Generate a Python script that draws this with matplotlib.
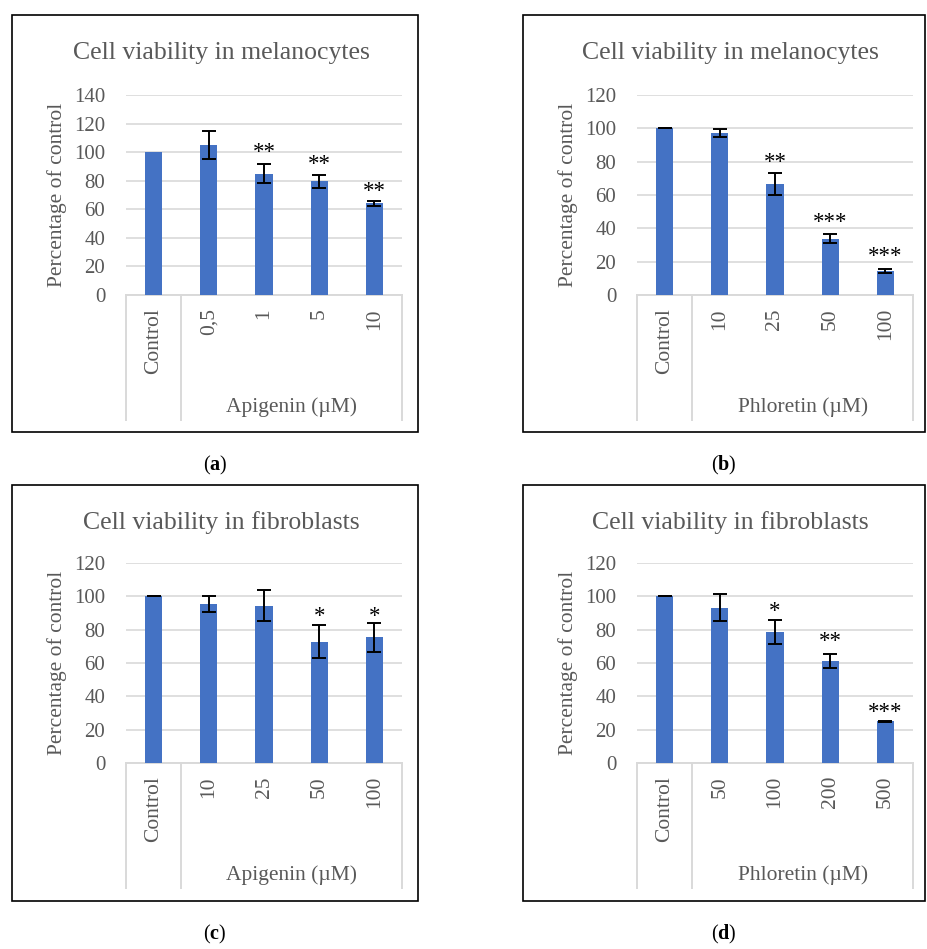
import matplotlib
matplotlib.use("Agg")
import matplotlib.pyplot as plt
import matplotlib.transforms as mtransforms
from matplotlib.patches import Rectangle

plt.rcParams['font.family'] = ['Liberation Serif', 'DejaVu Serif']
plt.rcParams['mathtext.fontset'] = 'custom'
plt.rcParams['mathtext.bf'] = 'Liberation Serif:bold'
plt.rcParams['mathtext.rm'] = 'Liberation Serif'

# ---- data ----
cats_a = ['Control', '0,5', '1', '5', '10']
vals_a = [100, 105, 85, 79.5, 64.3]
err_a = [None, 10, 6.5, 4.3, 1.8]
stars_a = ['', '', '**', '**', '**']
stary_a = [0, 0, 102.8, 94.2, 75.3]

cats_b = ['Control', '10', '25', '50', '100']
vals_b = [100, 97.2, 66.7, 33.7, 14.6]
err_b = [0, 2.2, 6.8, 2.7, 1.2]
stars_b = ['', '', '**', '***', '***']
stary_b = [0, 0, 82.1, 45.7, 25.6]

cats_c = ['Control', '10', '25', '50', '100']
vals_c = [100, 95.5, 94.5, 72.8, 75.5]
err_c = [0, 5.0, 9.2, 9.8, 8.6]
stars_c = ['', '', '', '*', '*']
stary_c = [0, 0, 0, 90.5, 90.5]

cats_d = ['Control', '50', '100', '200', '500']
vals_d = [100, 93.3, 78.9, 61.4, 25.1]
err_d = [0, 8.3, 7.2, 4.2, 0.3]
stars_d = ['', '', '*', '**', '***']
stary_d = [0, 0, 93.5, 75.2, 33.1]

W, H = 927, 949
fig = plt.figure(figsize=(W / 100, H / 100), dpi=100)

BLUE = '#4472C4'
TXT = '#595959'
GRID = '#D9D9D9'
FS = 15.5


def fx(px):
    return px / W


def fy(py):
    return 1 - py / H


def panel(box, plot, title, cats, vals, err, stars, stary, ymax, group, tag):
    bx0, by0, bx1, by1 = box
    fig.patches.append(Rectangle((fx(bx0), fy(by1)), fx(bx1 - bx0), (by1 - by0) / H,
                                 transform=fig.transFigure, fill=False,
                                 edgecolor='black', lw=1.2))
    l, r, t, b = plot
    ax = fig.add_axes([fx(l), fy(b), fx(r - l), (b - t) / H])
    x = list(range(len(cats)))
    ax.bar(x, vals, width=0.31, color=BLUE, zorder=3)
    for i in x:
        if err[i] is not None:
            ax.errorbar(i, vals[i], yerr=err[i], fmt='none', ecolor='black',
                        elinewidth=1.4, capsize=5, capthick=1.4, zorder=4)
        if stars[i]:
            ax.annotate(stars[i], (i, stary[i]), xytext=(0, -3),
                        textcoords='offset points', ha='center', va='center',
                        fontsize=16.5, color='black', zorder=5)
    ax.set_xlim(-0.5, len(cats) - 0.5)
    ax.set_ylim(0, ymax)
    ax.set_yticks(range(0, ymax + 1, 20))
    ax.tick_params(axis='y', length=0, pad=15, labelsize=15, labelcolor=TXT)
    ax.set_xticks([])
    for s in ax.spines.values():
        s.set_visible(False)
    ax.grid(axis='y', color=GRID, lw=1.2, zorder=0)
    ax.set_axisbelow(True)

    # category box under the axis
    trans = mtransforms.blended_transform_factory(ax.transData, ax.transAxes)
    depth = -125 / (b - t)
    ax.plot([-0.5, len(cats) - 0.5], [0, 0], color=GRID, lw=1.4,
            transform=trans, clip_on=False, zorder=2)
    for xv in [-0.5, 0.5, len(cats) - 0.5]:
        ax.plot([xv, xv], [0, depth], color=GRID, lw=1.4,
                transform=trans, clip_on=False)
    for i, c in enumerate(cats):
        ax.text(i, -13 / (b - t), c, rotation=90, ha='center', va='top',
                fontsize=FS, color=TXT, transform=trans)
    ax.text((0.5 + len(cats) - 0.5) / 2, -112 / (b - t), group, ha='center',
            va='center', fontsize=FS, color=TXT, transform=trans)

    ax.set_ylabel('Percentage of control', fontsize=FS, color=TXT, labelpad=5)
    fig.text(fx((bx0 + bx1) / 2 + 6), fy(53 + by0 - 15), title, ha='center',
             va='center', fontsize=18.5, color=TXT)
    fig.text(fx((bx0 + bx1) / 2), fy(by1 + 33), '(' + r'$\mathbf{' + tag + '}$' + ')',
             ha='center', va='center', fontsize=14.5, color='black')
    return ax


panel((12, 15, 418, 432), (126, 402, 95, 295), 'Cell viability in melanocytes',
      cats_a, vals_a, err_a, stars_a, stary_a, 140, 'Apigenin (µM)', 'a')
panel((523, 15, 925, 432), (637, 913, 95, 295), 'Cell viability in melanocytes',
      cats_b, vals_b, err_b, stars_b, stary_b, 120, 'Phloretin (µM)', 'b')
panel((12, 485, 418, 901), (126, 402, 563, 763), 'Cell viability in fibroblasts',
      cats_c, vals_c, err_c, stars_c, stary_c, 120, 'Apigenin (µM)', 'c')
panel((523, 485, 925, 901), (637, 913, 563, 763), 'Cell viability in fibroblasts',
      cats_d, vals_d, err_d, stars_d, stary_d, 120, 'Phloretin (µM)', 'd')

fig.savefig('out.png', dpi=100)
